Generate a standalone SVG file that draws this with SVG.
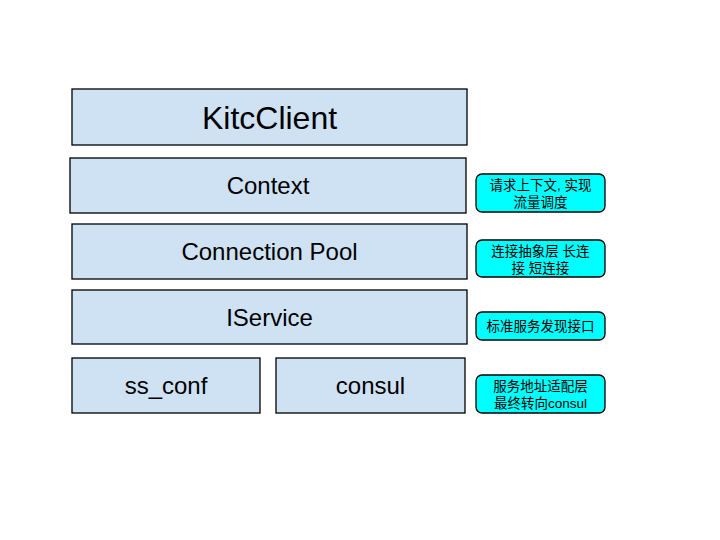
<svg xmlns="http://www.w3.org/2000/svg" width="720" height="540" viewBox="0 0 720 540">
<style>
.layer{fill:#cfe2f3;stroke:#000;stroke-width:1.3}
.note{fill:#00ffff;stroke:#000;stroke-width:1.3}
.t{font-family:"Liberation Sans",Arial,sans-serif;fill:#000;text-anchor:middle}
.n{font-family:"Liberation Sans","Noto Sans CJK SC",sans-serif;font-size:13.5px;fill:#000;text-anchor:middle}
</style>
<rect width="720" height="540" fill="#fff"/>
<g id="kitcclient"><rect class="layer" x="72" y="89" width="395" height="56"/><text class="t" x="269.5" y="129" font-size="32">KitcClient</text></g>
<g id="context"><rect class="layer" x="70" y="158" width="396" height="55"/><text class="t" x="268" y="194" font-size="24">Context</text></g>
<g id="connection-pool"><rect class="layer" x="72" y="224" width="395" height="55"/><text class="t" x="269.5" y="260" font-size="24">Connection Pool</text></g>
<g id="iservice"><rect class="layer" x="72" y="290" width="395" height="54"/><text class="t" x="269.5" y="326" font-size="24">IService</text></g>
<g id="ss_conf"><rect class="layer" x="72" y="358" width="188" height="55"/><text class="t" x="166" y="394" font-size="24">ss_conf</text></g>
<g id="consul"><rect class="layer" x="276" y="358" width="189" height="55"/><text class="t" x="370.5" y="394" font-size="24">consul</text></g>
<g id="note-context"><rect class="note" x="476" y="174" width="129" height="38" rx="6"/><text class="n" x="540.5" y="190">请求上下文, 实现</text><text class="n" x="540.5" y="207">流量调度</text></g>
<g id="note-pool"><rect class="note" x="476" y="240" width="129" height="37" rx="6"/><text class="n" x="540.5" y="256">连接抽象层 长连</text><text class="n" x="540.5" y="273">接 短连接</text></g>
<g id="note-iservice"><rect class="note" x="476" y="312" width="129" height="28" rx="6"/><text class="n" x="540.5" y="331">标准服务发现接口</text></g>
<g id="note-consul"><rect class="note" x="476" y="375" width="129" height="38" rx="6"/><text class="n" x="540.5" y="391">服务地址适配层</text><text class="n" x="540.5" y="408">最终转向consul</text></g>
<g id="connectors"></g>
</svg>
